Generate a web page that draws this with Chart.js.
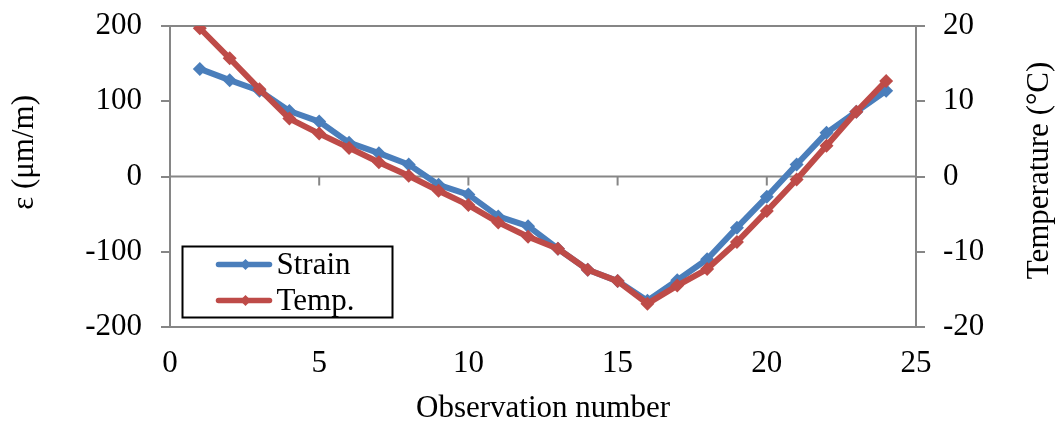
<!DOCTYPE html>
<html>
<head>
<meta charset="utf-8">
<script src="https://cdn.jsdelivr.net/npm/chart.js@4/dist/chart.umd.min.js"></script>
<style>
  html, body { margin: 0; padding: 0; background: #ffffff; }
  #wrap { width: 1063px; height: 424px; position: relative; }
</style>
</head>
<body>
<div id="wrap"><canvas id="c" width="1063" height="424"></canvas></div>
<script>
// Observation numbers
const observations = [1, 2, 3, 4, 5, 6, 7, 8, 9, 10, 11, 12, 13, 14, 15, 16, 17, 18, 19, 20, 21, 22, 23, 24];
// Measured strain, µm/m
const strain = [143, 128, 114, 87, 73, 45, 31, 16, -11, -24, -53, -66, -96, -124, -139, -165, -138, -110, -68, -27, 16, 58, 86, 114];
// Temperature, °C
const temperature = [19.7, 15.7, 11.6, 7.7, 5.7, 3.8, 1.9, 0.1, -1.9, -3.8, -6.1, -8.0, -9.6, -12.4, -13.9, -16.9, -14.5, -12.3, -8.7, -4.6, -0.4, 4.1, 8.6, 12.7];
// Axis ticks
const strainTicks = [-200, -100, 0, 100, 200];
const tempTicks = [-20, -10, 0, 10, 20];
const obsTicks = [0, 5, 10, 15, 20, 25];

const FONT = "'Liberation Serif', 'Times New Roman', serif";
const AXIS_GREY = '#868686';
const BLUE = '#4A7EBB';
const RED = '#BE4B48';

const toPoints = (ys) => observations.map((x, i) => ({ x: x, y: ys[i] }));

// Fixed axis box sizes so the plot area sits where it should
const fixBox = (w, h) => (s) => {
  if (w !== null) s.width = w;
  if (h !== null) s.height = h;
  s.paddingTop = 0; s.paddingBottom = 0; s.paddingLeft = 0; s.paddingRight = 0;
};

// Frame lines, zero axis with its tick marks, side titles and the boxed legend
const decorations = {
  id: 'decorations',
  beforeDatasetsDraw(chart) {
    const { ctx, chartArea: a, scales } = chart;
    const y0 = scales.y.getPixelForValue(0);
    ctx.save();
    ctx.strokeStyle = AXIS_GREY;
    ctx.lineWidth = 2;
    ctx.beginPath();
    ctx.moveTo(a.left, a.top); ctx.lineTo(a.right, a.top);
    ctx.moveTo(a.left, y0); ctx.lineTo(a.right, y0);
    obsTicks.forEach(v => {
      if (v === 0 || v === 25) return;
      const px = scales.x.getPixelForValue(v);
      ctx.moveTo(px, y0); ctx.lineTo(px, y0 + 9);
    });
    ctx.stroke();
    ctx.restore();
  },
  afterDraw(chart) {
    const { ctx, chartArea: a } = chart;
    ctx.save();
    ctx.fillStyle = '#000';
    ctx.font = '31px ' + FONT;
    ctx.textAlign = 'center';
    ctx.textBaseline = 'middle';
    // left title
    ctx.save();
    ctx.translate(25, a.top + (a.bottom - a.top) * 0.42);
    ctx.rotate(-Math.PI / 2);
    ctx.fillText('ε (μm/m)', 0, 0);
    ctx.restore();
    // right title
    ctx.save();
    ctx.translate(1040, a.top + (a.bottom - a.top) * 0.48);
    ctx.rotate(-Math.PI / 2);
    ctx.fillText('Temperature (°C)', 0, 0);
    ctx.restore();

    // legend box
    const bx = a.left + 12.5, by = a.top + 220.5, bw = 210, bh = 71;
    ctx.fillStyle = '#fff';
    ctx.fillRect(bx, by, bw, bh);
    ctx.strokeStyle = '#000';
    ctx.lineWidth = 2;
    ctx.strokeRect(bx, by, bw, bh);
    const rows = [by + 18, by + 54];
    chart.data.datasets.forEach((ds, i) => {
      const ry = rows[i];
      ctx.strokeStyle = ds.borderColor;
      ctx.lineWidth = 5.5;
      ctx.lineCap = 'round';
      ctx.beginPath();
      ctx.moveTo(bx + 36, ry); ctx.lineTo(bx + 87, ry);
      ctx.stroke();
      ctx.fillStyle = ds.borderColor;
      ctx.beginPath();
      const mx = bx + 63, r = 5.5;
      ctx.moveTo(mx, ry - r); ctx.lineTo(mx + r, ry); ctx.lineTo(mx, ry + r); ctx.lineTo(mx - r, ry);
      ctx.closePath(); ctx.fill();
      ctx.fillStyle = '#000';
      ctx.textAlign = 'left';
      ctx.fillText(ds.label, bx + 94, ry + 1);
    });
    ctx.restore();
  }
};

new Chart(document.getElementById('c'), {
  type: 'line',
  data: {
    datasets: [
      {
        label: 'Strain', data: toPoints(strain), yAxisID: 'y', order: 1,
        borderColor: BLUE, backgroundColor: BLUE, borderWidth: 6,
        pointStyle: 'rectRot', pointRadius: 7, pointBorderWidth: 0,
        borderJoinStyle: 'round', borderCapStyle: 'round', tension: 0
      },
      {
        label: 'Temp.', data: toPoints(temperature), yAxisID: 'y2', order: 0,
        borderColor: RED, backgroundColor: RED, borderWidth: 6,
        pointStyle: 'rectRot', pointRadius: 7, pointBorderWidth: 0,
        borderJoinStyle: 'round', borderCapStyle: 'round', tension: 0
      }
    ]
  },
  options: {
    responsive: false,
    animation: false,
    layout: { padding: { top: 26, left: 0, right: 0, bottom: 0 } },
    plugins: { legend: { display: false }, tooltip: { enabled: false } },
    scales: {
      x: {
        type: 'linear', position: 'bottom', min: 0, max: 25,
        afterBuildTicks: s => { s.ticks = obsTicks.map(v => ({ value: v })); },
        afterFit: fixBox(null, 97),
        grid: { display: false, drawTicks: false },
        border: { display: true, color: AXIS_GREY, width: 2 },
        ticks: { color: '#000', font: { family: FONT, size: 31 }, padding: 18, maxRotation: 0, autoSkip: false },
        title: { display: true, text: 'Observation number', color: '#000', font: { family: FONT, size: 31, lineHeight: 1.0 }, padding: { top: 0, bottom: 0 } }
      },
      y: {
        position: 'left', min: -200, max: 200,
        afterBuildTicks: s => { s.ticks = strainTicks.map(v => ({ value: v })); },
        afterFit: fixBox(170, null),
        grid: { drawOnChartArea: false, color: AXIS_GREY, tickLength: 9, lineWidth: 2 },
        border: { display: true, color: AXIS_GREY, width: 2 },
        ticks: { color: '#000', font: { family: FONT, size: 31 }, padding: 19, callback: v => String(v) }
      },
      y2: {
        position: 'right', min: -20, max: 20,
        afterBuildTicks: s => { s.ticks = tempTicks.map(v => ({ value: v })); },
        afterFit: fixBox(147, null),
        grid: { drawOnChartArea: false, color: AXIS_GREY, tickLength: 9, lineWidth: 2 },
        border: { display: true, color: AXIS_GREY, width: 2 },
        ticks: { color: '#000', font: { family: FONT, size: 31 }, padding: 18, callback: v => String(v) }
      }
    }
  },
  plugins: [decorations]
});
</script>
</body>
</html>
